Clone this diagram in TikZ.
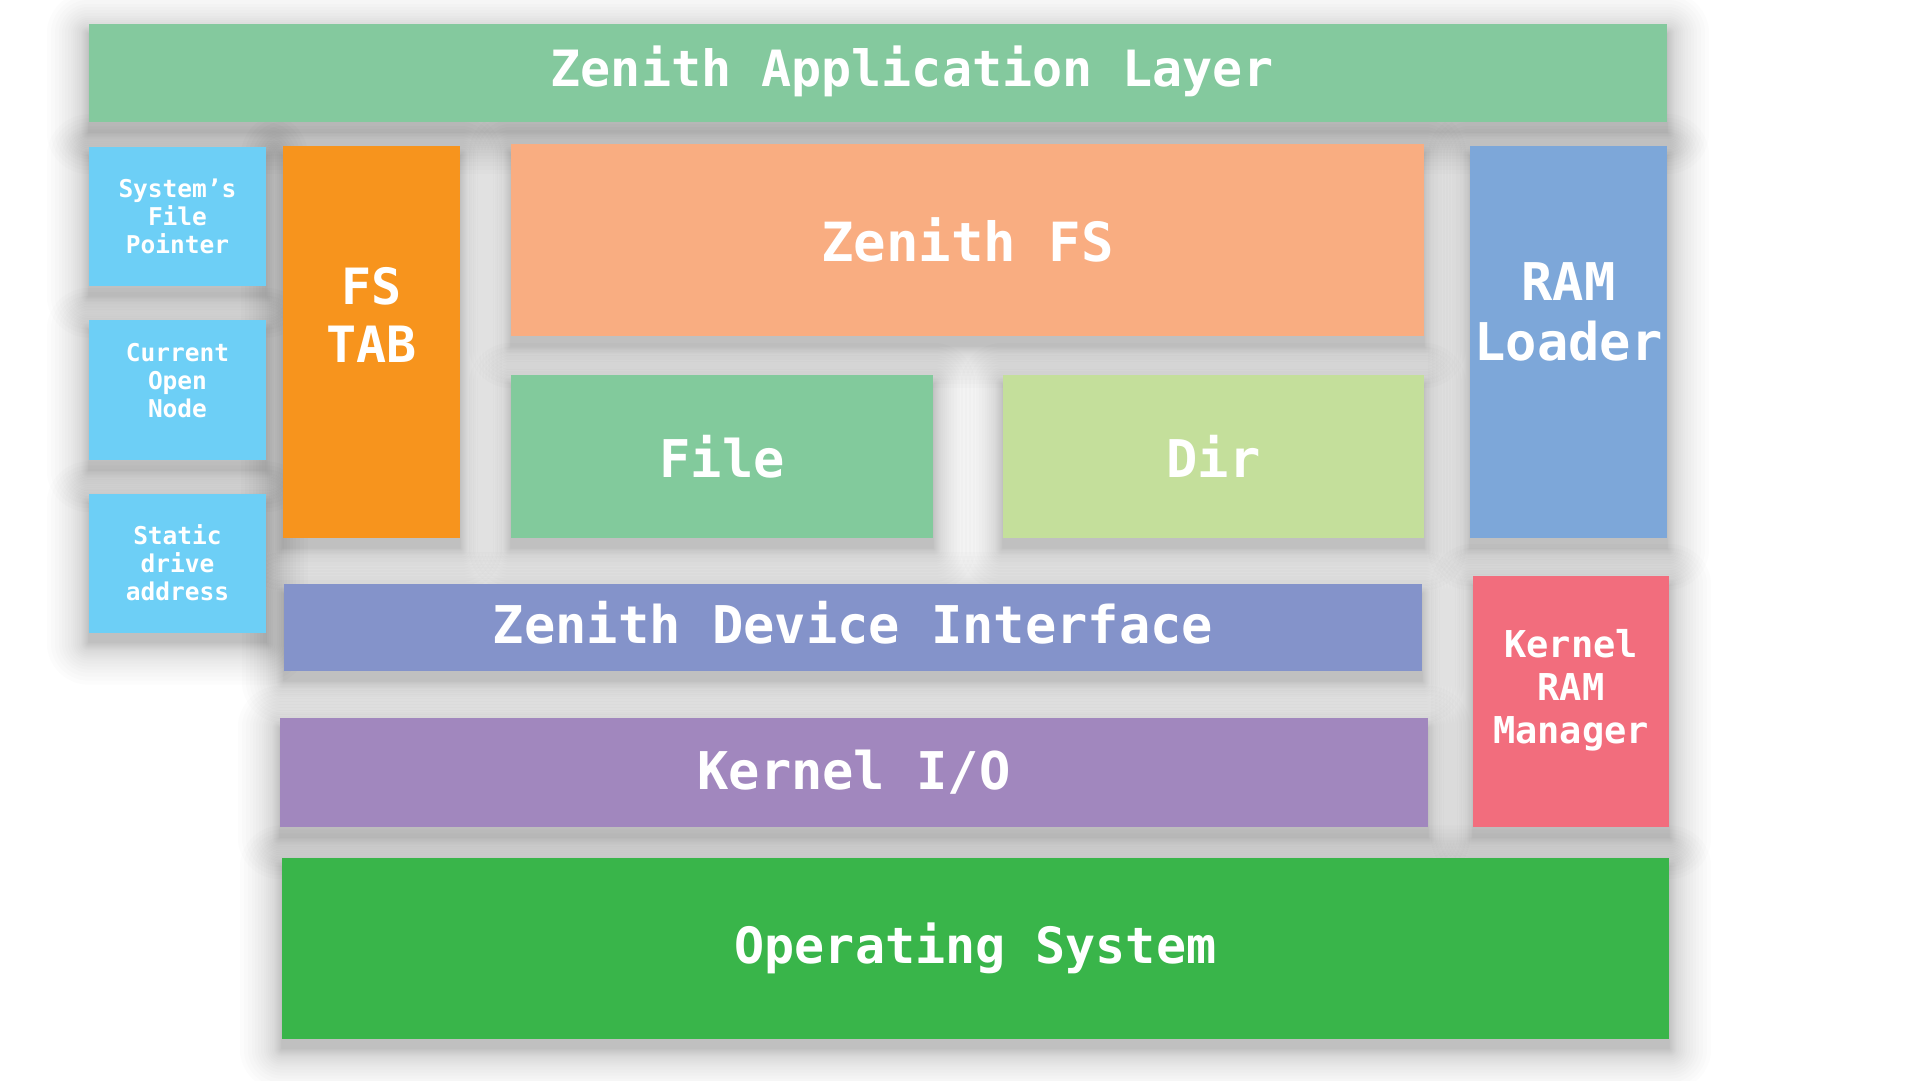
\documentclass[tikz,border=0pt]{standalone}
\usepackage{fontspec}
\setmonofont{DejaVu Sans Mono}
\usetikzlibrary{backgrounds}
\definecolor{appgreen}{HTML}{84C99E}
\definecolor{skyblue}{HTML}{6DCFF6}
\definecolor{tabor}{HTML}{F7941D}
\definecolor{fspeach}{HTML}{F9AD81}
\definecolor{filegreen}{HTML}{82CA9C}
\definecolor{dirlime}{HTML}{C4DF9B}
\definecolor{ramblue}{HTML}{7DA7D9}
\definecolor{devblue}{HTML}{8493CA}
\definecolor{kiopurple}{HTML}{A187BE}
\definecolor{krmred}{HTML}{F26D7D}
\definecolor{osgreen}{HTML}{39B54A}
\tikzset{
  box/.style={rectangle, inner sep=0pt, draw=none, text=white, align=center},
  lbl/.style={inner sep=0pt, text=white, align=center},
  big/.style={font=\ttfamily\bfseries\fontsize{52}{60}\selectfont},
  mid/.style={font=\ttfamily\bfseries\fontsize{37}{43}\selectfont},
  small/.style={font=\ttfamily\bfseries\fontsize{24.5}{28}\selectfont},
  shadelayer/.style={black, opacity=0.012},
}
% soft drop shadow: stacked translucent rounded rectangles, shifted down
\newcommand\boxshade[1]{%
  \foreach \r in {0.5,1,2,3,4,5,6,7,8,10,12,14,16,18,21,24,27,30,34,38,42}{%
    \fill[shadelayer, rounded corners=\r pt]
      ([xshift=-\r pt, yshift=\r pt-10pt]#1.north west) rectangle
      ([xshift=\r pt, yshift=-\r pt-10pt]#1.south east);
  }%
}
\begin{document}
\begin{tikzpicture}[x=1pt, y=-1pt]
\useasboundingbox (0,0) rectangle (1920,1080);

% top layer
\node[box, fill=appgreen, minimum width=1578pt, minimum height=98pt] (app) at (878,73) {};
\node[lbl, font=\ttfamily\bfseries\fontsize{50}{58}\selectfont] (applbl) at (912,71) {Zenith Application Layer};

% left column of pointers
\node[box, small, fill=skyblue, minimum width=177pt, minimum height=139pt] (sfp) at (177.5,216) {System’s\\File\\Pointer};
\node[box, fill=skyblue, minimum width=177pt, minimum height=140pt] (con) at (177.5,390) {};
\node[lbl, small] (conlbl) at (177.5,381) {Current\\Open\\Node};
\node[box, small, fill=skyblue, minimum width=177pt, minimum height=139pt] (sda) at (177.5,563) {Static\\drive\\address};

% file system tier
\node[box, fill=tabor, minimum width=177pt, minimum height=392pt] (fstab) at (371.5,342) {};
\node[lbl, font=\ttfamily\bfseries\fontsize{50}{58}\selectfont] (fstablbl) at (371.5,315) {FS\\TAB};
\node[box, fill=fspeach, minimum width=913pt, minimum height=192pt, font=\ttfamily\bfseries\fontsize{54}{60}\selectfont] (zfs) at (967.5,240) {Zenith FS};
\node[box, big, fill=filegreen, minimum width=422pt, minimum height=163pt] (file) at (722,456.5) {File};
\node[box, big, fill=dirlime, minimum width=421pt, minimum height=163pt] (dir) at (1213.5,456.5) {Dir};
\node[box, fill=ramblue, minimum width=197pt, minimum height=392pt] (raml) at (1568.5,342) {};
\node[lbl, big] (ramllbl) at (1568.5,312) {RAM\\Loader};

% device and kernel tier
\node[box, fill=devblue, minimum width=1138pt, minimum height=87pt] (zdi) at (853,627.5) {};
\node[lbl, big] (zdilbl) at (853,623) {Zenith Device Interface};
\node[box, big, fill=kiopurple, minimum width=1148pt, minimum height=109pt] (kio) at (854,772.5) {Kernel I/O};
\node[box, fill=krmred, minimum width=196pt, minimum height=251pt] (krm) at (1571,701.5) {};
\node[lbl, mid] (krmlbl) at (1571,690) {Kernel\\RAM\\Manager};

% base
\node[box, fill=osgreen, minimum width=1387pt, minimum height=181pt, font=\ttfamily\bfseries\fontsize{50}{58}\selectfont] (os) at (975.5,948) {Operating System};

\begin{pgfonlayer}{background}
  \fill[white] (0,0) rectangle (1920,1080);
  \foreach \b in {app,sfp,con,sda,fstab,zfs,file,dir,raml,zdi,kio,krm,os}{\boxshade{\b}}
\end{pgfonlayer}
\end{tikzpicture}
\end{document}
